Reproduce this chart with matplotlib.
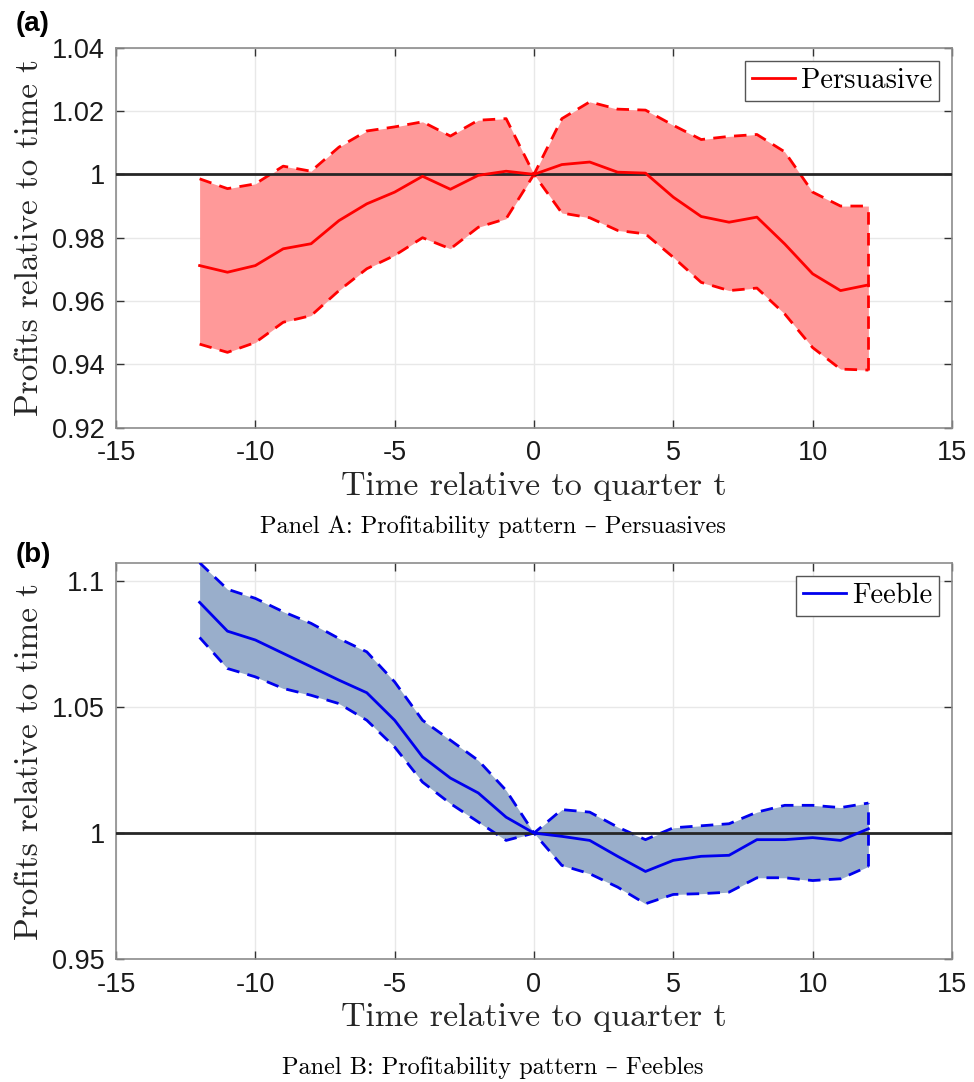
import matplotlib
matplotlib.use('Agg')
import matplotlib.pyplot as plt
from matplotlib.ticker import FuncFormatter
import numpy as np

# quarters relative to t
quarters = list(range(-12, 13))

# Panel A: Persuasives
persuasive_mean = [0.9712, 0.9691, 0.9712, 0.9765, 0.9781, 0.9854, 0.9907, 0.9944,
                   0.9994, 0.9953, 0.9997, 1.0010, 1.0000, 1.0031, 1.0039, 1.0007,
                   1.0004, 0.9928, 0.9867, 0.9849, 0.9865, 0.9780, 0.9686, 0.9633,
                   0.9651]
persuasive_upper = [0.9986, 0.9955, 0.9970, 1.0026, 1.0010, 1.0086, 1.0137, 1.0150,
                    1.0166, 1.0121, 1.0171, 1.0176, 1.0000, 1.0176, 1.0229, 1.0206,
                    1.0203, 1.0155, 1.0110, 1.0120, 1.0126, 1.0071, 0.9944, 0.9900,
                    0.9900]
persuasive_lower = [0.9464, 0.9438, 0.9469, 0.9533, 0.9554, 0.9633, 0.9702, 0.9744,
                    0.9800, 0.9765, 0.9833, 0.9860, 1.0000, 0.9878, 0.9863, 0.9823,
                    0.9812, 0.9738, 0.9659, 0.9633, 0.9641, 0.9559, 0.9453, 0.9385,
                    0.9382]

# Panel B: Feebles
feeble_mean = [1.0914, 1.0800, 1.0765, 1.0712, 1.0659, 1.0606, 1.0556, 1.0447,
               1.0302, 1.0218, 1.0159, 1.0063, 1.0000, 0.9987, 0.9971, 0.9908,
               0.9848, 0.9892, 0.9908, 0.9912, 0.9974, 0.9974, 0.9982, 0.9971,
               1.0017]
feeble_upper = [1.1071, 1.0966, 1.0930, 1.0877, 1.0831, 1.0771, 1.0718, 1.0599,
                1.0447, 1.0368, 1.0288, 1.0169, 1.0000, 1.0093, 1.0083, 1.0024,
                0.9974, 1.0021, 1.0029, 1.0037, 1.0083, 1.0110, 1.0110, 1.0101,
                1.0119]
feeble_lower = [1.0775, 1.0652, 1.0619, 1.0573, 1.0546, 1.0513, 1.0447, 1.0341,
                1.0202, 1.0117, 1.0044, 0.9971, 1.0000, 0.9872, 0.9839, 0.9786,
                0.9720, 0.9757, 0.9760, 0.9766, 0.9823, 0.9823, 0.9812, 0.9819,
                0.9868]

SERIF = ['cmr10', 'DejaVu Serif']
SANS = 'Liberation Sans'
plt.rcParams['axes.unicode_minus'] = False
DASH = (4.5, 3)


def draw_panel(ax, mean, upper, lower, line_color, fill_color, label, ylim, yticks):
    x = np.array(quarters)
    ax.fill_between(x, lower, upper, color=fill_color, linewidth=0, zorder=2)
    ax.plot(x, upper, '--', color=line_color, lw=2.0, dashes=DASH, zorder=3)
    ax.plot(x, lower, '--', color=line_color, lw=2.0, dashes=DASH, zorder=3)
    ax.plot([x[-1], x[-1]], [lower[-1], upper[-1]], '--', color=line_color,
            lw=2.0, dashes=DASH, zorder=3)
    ax.axhline(1, color='#262626', lw=2.0, zorder=4)
    line, = ax.plot(x, mean, '-', color=line_color, lw=2.0, zorder=5)

    ax.set_xlim(-15, 15)
    ax.set_ylim(*ylim)
    ax.set_xticks(range(-15, 16, 5))
    ax.set_yticks(yticks)
    ax.yaxis.set_major_formatter(FuncFormatter(lambda v, p: '%g' % round(v, 4)))
    ax.grid(True, color='#e8e8e8', lw=1.0, zorder=0)
    ax.set_axisbelow(True)
    for s in ax.spines.values():
        s.set_color('#8c8c8c')
        s.set_linewidth(1.2)
    ax.tick_params(direction='in', top=True, right=True, length=6, width=1,
                   color='#333333', labelsize=19.5)
    ax.tick_params(axis='x', pad=9)
    ax.tick_params(axis='y', pad=8)
    for t in ax.get_xticklabels() + ax.get_yticklabels():
        t.set_family(SANS)
        t.set_color('#1a1a1a')

    ax.set_xlabel('Time relative to quarter t', family=SERIF, fontsize=24.5,
                  color='#262626', labelpad=4)
    ax.set_ylabel('Profits relative to time t', family=SERIF, fontsize=24,
                  color='#262626', labelpad=6)
    leg = ax.legend([line], [label], loc='upper right', prop={'family': SERIF, 'size': 20.5},
                    fancybox=False, framealpha=1, edgecolor='#555555',
                    handlelength=1.5, handletextpad=0.2, borderpad=0.25,
                    borderaxespad=0.45)
    leg.get_frame().set_linewidth(1.0)


fig = plt.figure(figsize=(9.74, 10.82), dpi=100)

ax_a = fig.add_axes([0.1191, 0.6047, 0.8583, 0.3512])
draw_panel(ax_a, persuasive_mean, persuasive_upper, persuasive_lower,
           '#ff0000', '#ff9999', 'Persuasive', (0.92, 1.04),
           [0.92, 0.94, 0.96, 0.98, 1.0, 1.02, 1.04])

ax_b = fig.add_axes([0.1191, 0.1134, 0.8583, 0.3665])
draw_panel(ax_b, feeble_mean, feeble_upper, feeble_lower,
           '#0000ee', '#99aecb', 'Feeble', (0.95, max(feeble_upper)),
           [0.95, 1.0, 1.05, 1.1])

fig.text(0.016, 0.978, '(a)', family=SANS, weight='bold', fontsize=20, va='center')
fig.text(0.016, 0.487, '(b)', family=SANS, weight='bold', fontsize=20, va='center')
fig.text(0.506, 0.513, 'Panel A: Profitability pattern \u2013 Persuasives',
         family=SERIF, fontsize=17.5, ha='center', va='center')
fig.text(0.506, 0.0129, 'Panel B: Profitability pattern \u2013 Feebles',
         family=SERIF, fontsize=17.5, ha='center', va='center')

fig.savefig('out.png', dpi=100)
